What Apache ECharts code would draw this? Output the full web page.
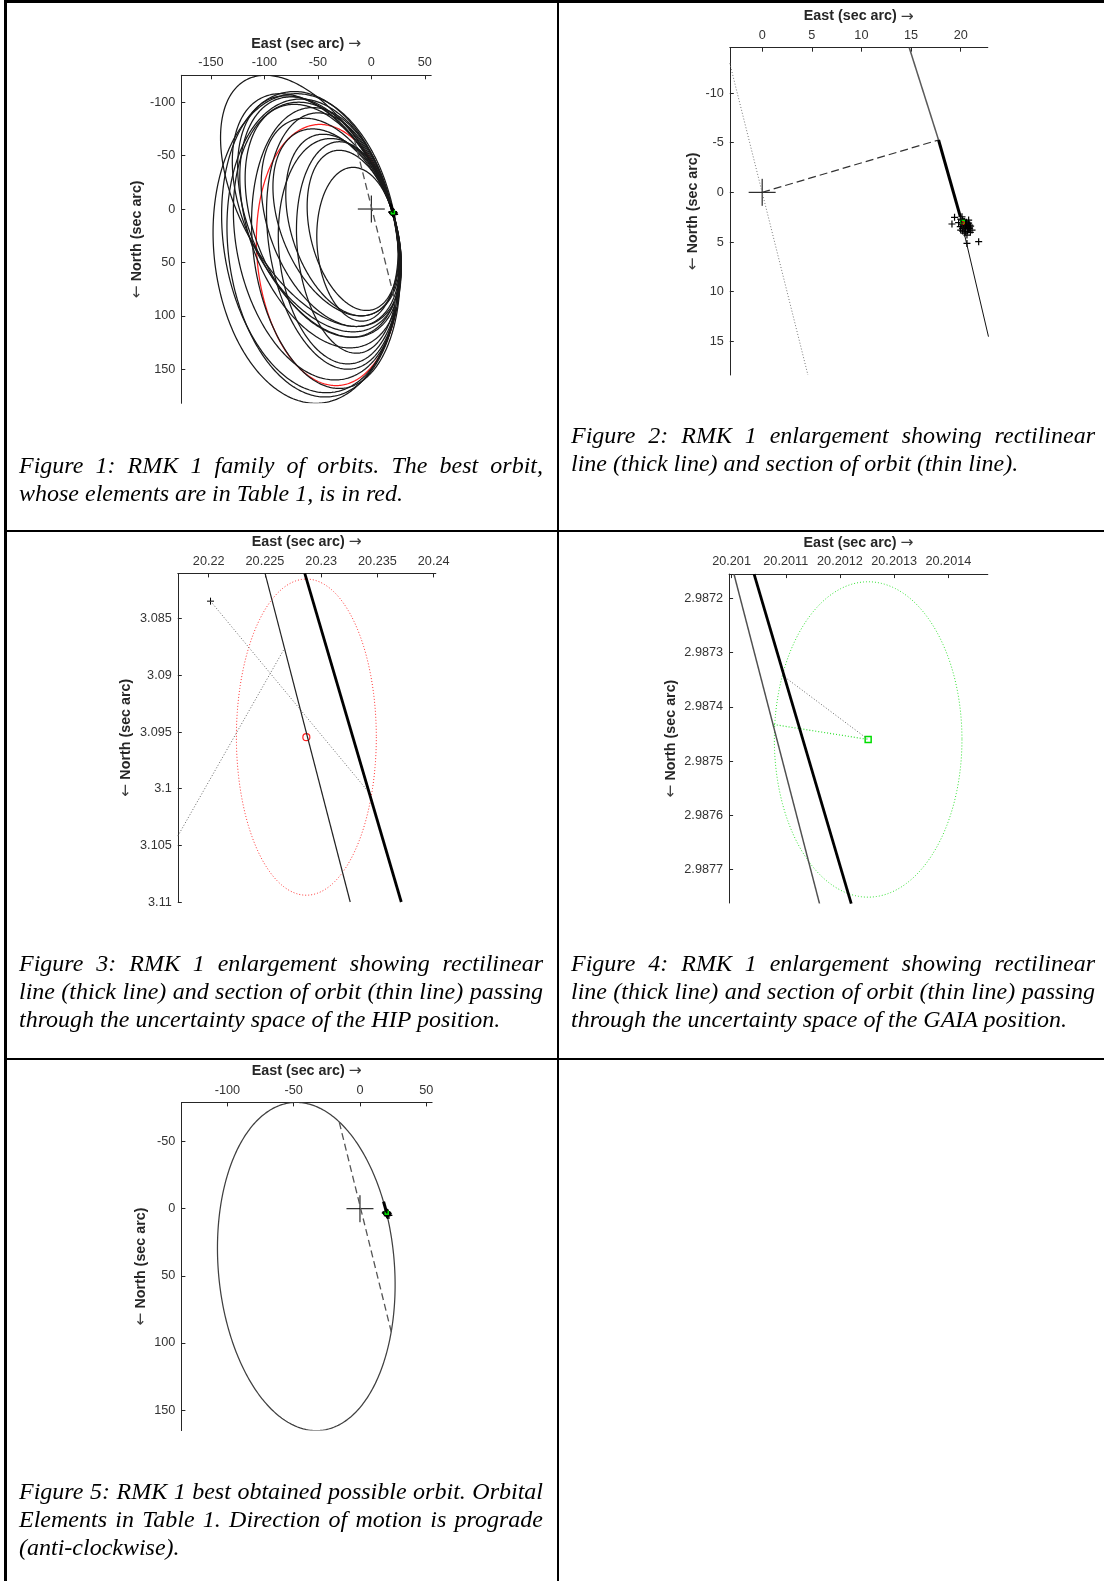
<!DOCTYPE html>
<html>
<head>
<meta charset="utf-8">
<title>RMK 1 orbits</title>
<script src="https://cdn.jsdelivr.net/npm/echarts@6.0.0/dist/echarts.min.js"></script>
<style>
  html, body { margin: 0; padding: 0; background: #fff; }
  #page { position: relative; width: 1104px; height: 1581px; overflow: hidden; }
  #chart { position: absolute; left: 0; top: 0; width: 1104px; height: 1581px; }
  .rule { position: absolute; background: #000; }
  .cap { position: absolute; width: 524px; font: italic 24px/27.8px 'Liberation Serif', 'Times New Roman', serif; color: #000; }
  .cap .j { text-align: justify; text-align-last: justify; }
</style>
</head>
<body>
<div id="page">
  <div id="chart"></div>

  <div class="rule" style="left:4px;top:0px;width:1100px;height:2.5px"></div>
  <div class="rule" style="left:4px;top:0px;width:2.5px;height:1581px"></div>
  <div class="rule" style="left:557px;top:0px;width:2px;height:1581px"></div>
  <div class="rule" style="left:4px;top:530px;width:1100px;height:1.8px"></div>
  <div class="rule" style="left:4px;top:1058px;width:1100px;height:1.8px"></div>

  <div class="cap" style="left:19px;top:452px">
    <div class="j">Figure 1: RMK 1 family of orbits. The best orbit,</div>
    <div>whose elements are in Table 1, is in red.</div>
  </div>
  <div class="cap" style="left:571px;top:422px">
    <div class="j">Figure 2: RMK 1 enlargement showing rectilinear</div>
    <div>line (thick line) and section of orbit (thin line).</div>
  </div>
  <div class="cap" style="left:19px;top:950px">
    <div class="j">Figure 3: RMK 1 enlargement showing rectilinear</div>
    <div class="j">line (thick line) and section of orbit (thin line) passing</div>
    <div>through the uncertainty space of the HIP position.</div>
  </div>
  <div class="cap" style="left:571px;top:950px">
    <div class="j">Figure 4: RMK 1 enlargement showing rectilinear</div>
    <div class="j">line (thick line) and section of orbit (thin line) passing</div>
    <div>through the uncertainty space of the GAIA position.</div>
  </div>
  <div class="cap" style="left:19px;top:1478px">
    <div class="j">Figure 5: RMK 1 best obtained possible orbit. Orbital</div>
    <div class="j">Elements in Table 1. Direction of motion is prograde</div>
    <div>(anti-clockwise).</div>
  </div>
</div>

<script>
  // orbit family of figure 1, each orbit read as [left x, right x, top y, bottom y, x of top point]
  const familyOrbits = [
    [-148, 26, -108, 181.9, -70],
    [-141, 28, -125.2, 110, -99],
    [-140, 26, -110, 172, -72],
    [-135, 26, -103, 176, -66],
    [-130, 28, -108, 115, -85],
    [-129, 27, -100, 160, -68],
    [-125, 28, -106, 120, -80],
    [-123, 28, -105, 130, -75],
    [-118, 27, -98, 120, -72],
    [-112, 27, -95, 168, -55],
    [-103, 27, -85, 110, -62],
    [-98, 26, -90, 150, -50],
    [-92, 27, -75, 100, -55],
    [-87, 27, -66, 145, -38],
    [-80, 26, -70, 100, -45],
    [-70, 26, -63, 135, -30],
    [-60, 25.5, -55, 95, -30],
    [-51, 25, -39, 105, -17],
  ];
  // best orbit (red in fig 1, fig 5)
  const bestOrbit = [-107.5, 26.5, -79.2, 165.3, -48];
  const apsidesLine = [[-15.6, -64.3], [24, 93.3]];
  const primary = [[0, 0]];

  // observed positions (sec arc)
  const obsPoints = [
    [19.38, 2.52], [19.12, 3.19], [20.13, 2.46], [20.8, 2.79], [20.29, 2.96],
    [20.46, 3.29], [19.96, 3.46], [20.8, 3.63], [20.46, 3.97], [20.97, 4.03],
    [20.63, 4.3], [21.81, 4.97], [20.63, 5.14], [21.14, 3.8], [19.79, 3.06],
    [20.19, 3.63], [20.5, 3.1], [20.7, 3.5], [20.3, 3.4], [20.9, 3.3],
    [20.0, 2.7], [20.2, 2.8], [20.4, 2.9], [20.6, 3.0], [20.1, 3.2],
    [20.3, 3.5], [20.5, 3.7], [20.7, 3.9], [20.9, 3.6], [20.2, 3.9],
    [20.4, 4.1], [20.6, 3.3], [20.0, 3.8], [20.8, 3.1], [21.0, 3.4],
  ];
  const rectilinear = [[17.77, -5.27], [19.96, 2.45]];
  const orbitUpper = [[14.82, -14.56], [17.77, -5.27]];
  const orbitLower = [[19.96, 2.45], [22.8, 14.53]];
  const nodeDash = [[0, 0], [17.77, -5.27]];
  const dottedF2 = [[-3.26, -12.99], [4.61, 18.39]];

  // HIP position and uncertainty (fig 3)
  const hipPos = [20.22868, 3.09545];
  const hipSigma = [0.00622, 0.01395];
  const hipObs = [[20.22016, 3.08345]];
  const f3Thin = [[20.22501, 3.081], [20.23258, 3.11]];
  const f3Thick = [[20.22854, 3.081], [20.23712, 3.11]];
  const f3DotA = [[20.22016, 3.08345], [20.2343, 3.1004]];
  const f3DotB = [[20.21725, 3.10418], [20.22673, 3.08763]];

  // GAIA position and uncertainty (fig 4)
  const gaiaPos = [20.201252, 2.9874601];
  const gaiaSigma = [0.00017305, 0.00029084];
  const f4Thin = [[20.2010045, 2.98715511], [20.2011623, 2.98776296]];
  const f4Thick = [[20.2010416, 2.98715511], [20.2012208, 2.98776296]];
  const f4DotGray = [[20.2010942, 2.98734213], gaiaPos];
  const f4DotGreen = [[20.2010779, 2.98743253], gaiaPos];

  // axis ranges and ticks
  const f1X = [-177.7, 56], f1Y = [-125.2, 181.9];
  const f1XTicks = [-150, -100, -50, 0, 50], f1XLabels = ['-150', '-100', '-50', '0', '50'];
  const f1YTicks = [-100, -50, 0, 50, 100, 150], f1YLabels = ['-100', '-50', '0', '50', '100', '150'];
  const f2X = [-3.26, 22.73], f2Y = [-14.56, 18.39];
  const f2XTicks = [0, 5, 10, 15, 20], f2XLabels = ['0', '5', '10', '15', '20'];
  const f2YTicks = [-10, -5, 0, 5, 10, 15], f2YLabels = ['-10', '-5', '0', '5', '10', '15'];
  const f3X = [20.21725, 20.24019], f3Y = [3.081, 3.11];
  const f3XTicks = [20.22, 20.225, 20.23, 20.235, 20.24];
  const f3XLabels = ['20.22', '20.225', '20.23', '20.235', '20.24'];
  const f3YTicks = [3.085, 3.09, 3.095, 3.1, 3.105, 3.11];
  const f3YLabels = ['3.085', '3.09', '3.095', '3.1', '3.105', '3.11'];
  const f4X = [20.2009955, 20.2014727], f4Y = [2.98715511, 2.98776172];
  const f4XTicks = [20.201, 20.2011, 20.2012, 20.2013, 20.2014];
  const f4XLabels = ['20.201', '20.2011', '20.2012', '20.2013', '20.2014'];
  const f4YTicks = [2.9872, 2.9873, 2.9874, 2.9875, 2.9876, 2.9877];
  const f4YLabels = ['2.9872', '2.9873', '2.9874', '2.9875', '2.9876', '2.9877'];
  const f5X = [-134.7, 54.4], f5Y = [-79.2, 165.3];
  const f5XTicks = [-100, -50, 0, 50], f5XLabels = ['-100', '-50', '0', '50'];
  const f5YTicks = [-50, 0, 50, 100, 150], f5YLabels = ['-50', '0', '50', '100', '150'];

  const FONT = 'Liberation Sans, Arial, sans-serif';
  const AXIS = '#262626';
  const nameRich = { arr: { fontFamily: 'DejaVu Sans', fontSize: 15.5, fontWeight: 'normal', color: '#3a3a3a', lineHeight: 14.3 } };

  // [cx, cy, half width, y shift at the right end, remaining y radius]
  function orbitParams(o) {
    const [l, r, t, b, xTop] = o;
    const cx = (l + r) / 2, w = (r - l) / 2, cy = (t + b) / 2, h = (b - t) / 2;
    const dy = -(xTop - cx) * h / w;
    return [cx, cy, w, dy, Math.sqrt(h * h - dy * dy)];
  }
  function sigmaParams(pos, sig) {
    return [pos[0], pos[1], sig[0], 0, sig[1]];
  }

  function ellipseSeries(i, data, color, width, dash) {
    return {
      type: 'custom', xAxisIndex: i, yAxisIndex: i, clip: true, silent: true,
      data: data,
      renderItem: (params, api) => {
        const cx = api.value(0), cy = api.value(1), w = api.value(2), dy = api.value(3), k = api.value(4);
        const pts = [];
        for (let j = 0; j <= 360; j++) {
          const t = (j / 360) * Math.PI * 2;
          pts.push(api.coord([cx + w * Math.cos(t), cy + dy * Math.cos(t) + k * Math.sin(t)]));
        }
        return {
          type: 'polyline',
          shape: { points: pts },
          style: { fill: null, stroke: color, lineWidth: width, lineDash: dash || null },
        };
      },
    };
  }

  function markerSeries(i, data, kind, size, color, width) {
    return {
      type: 'custom', xAxisIndex: i, yAxisIndex: i, clip: true, silent: true,
      data: data,
      renderItem: (params, api) => {
        const p = api.coord([api.value(0), api.value(1)]);
        const h = size / 2;
        const style = { stroke: color, lineWidth: width, fill: null };
        if (kind === 'circle') {
          return { type: 'circle', shape: { cx: p[0], cy: p[1], r: h }, style };
        }
        if (kind === 'square') {
          return { type: 'rect', shape: { x: p[0] - h, y: p[1] - h, width: size, height: size }, style };
        }
        return {
          type: 'group',
          children: [
            { type: 'line', shape: { x1: p[0] - h, y1: p[1], x2: p[0] + h, y2: p[1] }, style },
            { type: 'line', shape: { x1: p[0], y1: p[1] - h, x2: p[0], y2: p[1] + h }, style },
          ],
        };
      },
    };
  }

  function lineSeries(i, data, color, width, type) {
    return {
      type: 'line', xAxisIndex: i, yAxisIndex: i, data: data, silent: true,
      showSymbol: false, symbol: 'none',
      lineStyle: { color: color, width: width, type: type || 'solid', cap: 'butt' },
    };
  }

  function labelFor(v, ticks, labels) {
    let best = 0;
    ticks.forEach((t, j) => { if (Math.abs(t - v) < Math.abs(ticks[best] - v)) best = j; });
    return labels[best];
  }

  function xAxis(i, range, ticks, labels) {
    return {
      type: 'value', gridIndex: i, position: 'top', min: range[0], max: range[1],
      name: 'East (sec arc) {arr|\u2192}', nameLocation: 'middle', nameGap: 24,
      nameTextStyle: { fontFamily: FONT, fontSize: 14.3, fontWeight: 'bold', color: AXIS, lineHeight: 14.3, rich: nameRich },
      axisLine: { show: true, onZero: false, lineStyle: { color: AXIS, width: 1 } },
      axisTick: { show: true, inside: true, length: 4, customValues: ticks, lineStyle: { color: AXIS, width: 1 } },
      axisLabel: {
        customValues: ticks, margin: 6, fontFamily: FONT, fontSize: 12.7, color: '#333', lineHeight: 12.7,
        formatter: (v) => labelFor(v, ticks, labels),
      },
      splitLine: { show: false },
    };
  }

  function yAxis(i, range, ticks, labels, gap) {
    return {
      type: 'value', gridIndex: i, position: 'left', inverse: true, min: range[0], max: range[1],
      name: '{arr|\u2190} North (sec arc)', nameLocation: 'middle', nameGap: gap, nameRotate: 90,
      nameTextStyle: { fontFamily: FONT, fontSize: 14.3, fontWeight: 'bold', color: AXIS, lineHeight: 14.3, rich: nameRich },
      axisLine: { show: true, onZero: false, lineStyle: { color: AXIS, width: 1 } },
      axisTick: { show: true, inside: true, length: 4, customValues: ticks, lineStyle: { color: AXIS, width: 1 } },
      axisLabel: {
        customValues: ticks, margin: 6, fontFamily: FONT, fontSize: 12.7, color: '#333',
        formatter: (v) => labelFor(v, ticks, labels),
      },
      splitLine: { show: false },
    };
  }

  const grids = [
    { left: 181.3, top: 75.3, width: 249.9, height: 328 },
    { left: 729.8, top: 47.7, width: 258, height: 327.3 },
    { left: 177.8, top: 573.4, width: 258, height: 328.6 },
    { left: 729.1, top: 574.1, width: 258.7, height: 328.9 },
    { left: 181.4, top: 1102.4, width: 250.7, height: 328.2 },
  ].map((g) => Object.assign({ outerBoundsMode: 'none', containLabel: false }, g));

  const series = [
    // fig 1
    ellipseSeries(0, [orbitParams(bestOrbit)], '#ff2020', 1.25),
    ellipseSeries(0, familyOrbits.map(orbitParams), '#1a1a1a', 1.25),
    lineSeries(0, apsidesLine, '#555', 1.3, [7, 4]),
    lineSeries(0, rectilinear, '#000', 3),
    markerSeries(0, [hipPos], 'circle', 3, '#ff0000', 1),
    markerSeries(0, obsPoints, 'plus', 7, '#000', 1.3),
    markerSeries(0, [gaiaPos], 'square', 3, '#00e000', 1.5),
    markerSeries(0, primary, 'plus', 27, '#000', 1),
    // fig 2
    lineSeries(1, dottedF2, '#777', 1, [1, 2]),
    lineSeries(1, nodeDash, '#333', 1.2, [8, 4]),
    lineSeries(1, orbitUpper, '#5a5a5a', 1.5),
    lineSeries(1, orbitLower, '#111', 1),
    lineSeries(1, rectilinear, '#000', 3),
    markerSeries(1, obsPoints, 'plus', 7, '#000', 1.2),
    markerSeries(1, [gaiaPos], 'square', 3, '#00e000', 1.5),
    markerSeries(1, [hipPos], 'circle', 3, '#ff0000', 1),
    markerSeries(1, primary, 'plus', 27, '#000', 1),
    // fig 3
    ellipseSeries(2, [sigmaParams(hipPos, hipSigma)], '#ff3030', 1, [1, 2]),
    lineSeries(2, f3DotA, '#666', 1, [1, 2]),
    lineSeries(2, f3DotB, '#666', 1, [1, 2]),
    lineSeries(2, f3Thin, '#222', 1.2),
    lineSeries(2, f3Thick, '#000', 2.8),
    markerSeries(2, [hipPos], 'circle', 7, '#ff2020', 1.2),
    markerSeries(2, hipObs, 'plus', 7, '#000', 1),
    // fig 4
    ellipseSeries(3, [sigmaParams(gaiaPos, gaiaSigma)], '#30e030', 1, [1, 2]),
    lineSeries(3, f4DotGray, '#666', 1, [1, 2]),
    lineSeries(3, f4DotGreen, '#30e030', 1.2, [1, 2]),
    lineSeries(3, f4Thin, '#505050', 1.5),
    lineSeries(3, f4Thick, '#000', 2.8),
    markerSeries(3, [gaiaPos], 'square', 6, '#00dd00', 1.5),
    // fig 5
    ellipseSeries(4, [orbitParams(bestOrbit)], '#404040', 1.25),
    lineSeries(4, apsidesLine, '#555', 1.3, [7, 4]),
    lineSeries(4, rectilinear, '#000', 3),
    markerSeries(4, [hipPos], 'circle', 3, '#ff0000', 1),
    markerSeries(4, obsPoints, 'plus', 7, '#000', 1.3),
    markerSeries(4, [gaiaPos], 'square', 3, '#00e000', 1.5),
    markerSeries(4, primary, 'plus', 27, '#000', 1),
  ];

  const chart = echarts.init(document.getElementById('chart'), null, { renderer: 'canvas' });
  chart.setOption({
    animation: false,
    grid: grids,
    xAxis: [
      xAxis(0, f1X, f1XTicks, f1XLabels),
      xAxis(1, f2X, f2XTicks, f2XLabels),
      xAxis(2, f3X, f3XTicks, f3XLabels),
      xAxis(3, f4X, f4XTicks, f4XLabels),
      xAxis(4, f5X, f5XTicks, f5XLabels),
    ],
    yAxis: [
      yAxis(0, f1Y, f1YTicks, f1YLabels, 37),
      yAxis(1, f2Y, f2YTicks, f2YLabels, 30),
      yAxis(2, f3Y, f3YTicks, f3YLabels, 44.7),
      yAxis(3, f4Y, f4YTicks, f4YLabels, 51),
      yAxis(4, f5Y, f5YTicks, f5YLabels, 33.3),
    ],
    series: series,
  });
</script>
</body>
</html>
